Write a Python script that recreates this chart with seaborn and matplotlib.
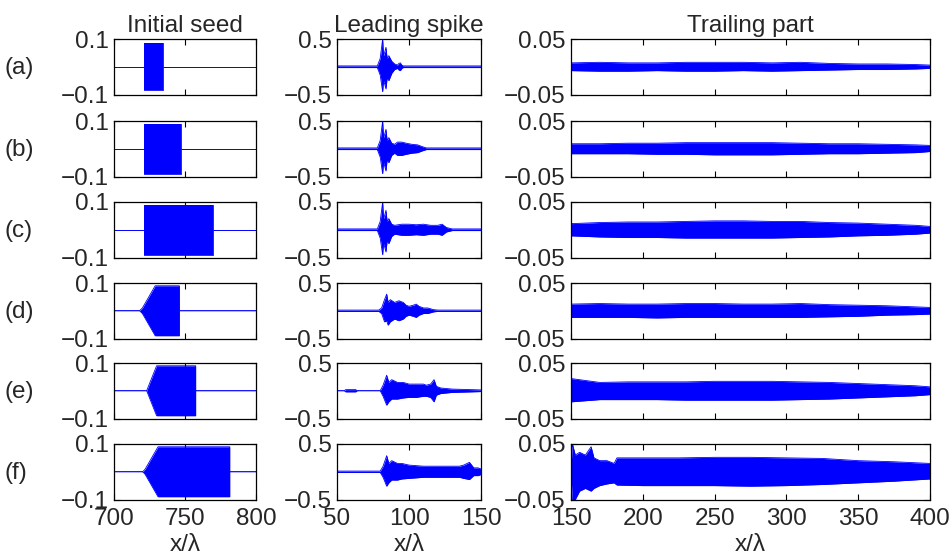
import numpy as np
import pandas as pd
import matplotlib
matplotlib.use("Agg")
import matplotlib.pyplot as plt
import seaborn as sns

# ---- data (signal envelopes) ----
row_labels = ["(a)", "(b)", "(c)", "(d)", "(e)", "(f)"]
col_titles = ["Initial seed", "Leading spike", "Trailing part"]

# initial seed: x positions and (symmetric) envelope amplitude
seed_x_a = [700, 721, 721, 734.5, 734.5, 800]
seed_amp_a = [0, 0, 0.085, 0.085, 0, 0]
seed_x_b = [700, 721, 721, 747, 747, 800]
seed_amp_b = [0, 0, 0.09, 0.09, 0, 0]
seed_x_c = [700, 721, 721, 770, 770, 800]
seed_amp_c = [0, 0, 0.09, 0.09, 0, 0]
seed_x_d = [700, 718, 719, 720, 729, 746, 746, 800]
seed_amp_d = [0, 0, 0.005, 0.01, 0.09, 0.09, 0, 0]
seed_x_e = [700, 723, 730, 757.5, 757.5, 800]
seed_amp_e = [0, 0, 0.09, 0.09, 0, 0]
seed_x_f = [700, 720, 721, 722, 731, 781.5, 781.5, 800]
seed_amp_f = [0, 0, 0.004, 0.01, 0.09, 0.09, 0, 0]

# leading spike: x, upper and lower envelope
spike_x_a = [50, 78, 80, 81.7, 82.3, 83, 84, 84.8, 86, 88, 90, 92, 93, 94, 95, 96, 150]
spike_up_a = [0.015, 0.015, 0.15, 0.5, 0.2, 0.25, 0.35, 0.15, 0.2, 0.1, 0.05, 0.03, 0.06, 0.07, 0.03, 0.015, 0.015]
spike_lo_a = [-0.015, -0.015, -0.15, -0.45, -0.25, -0.3, -0.4, -0.2, -0.25, -0.12, -0.05, -0.03, -0.06, -0.07, -0.03, -0.015, -0.015]

spike_x_b = [50, 78, 80, 81.7, 82.3, 83, 84, 84.8, 86, 88, 90, 92, 95, 98, 102, 106, 109, 112, 150]
spike_up_b = [0.015, 0.015, 0.15, 0.5, 0.2, 0.25, 0.35, 0.15, 0.2, 0.1, 0.08, 0.12, 0.12, 0.1, 0.08, 0.07, 0.04, 0.015, 0.015]
spike_lo_b = [-0.015, -0.015, -0.15, -0.45, -0.25, -0.3, -0.4, -0.2, -0.25, -0.12, -0.08, -0.12, -0.12, -0.1, -0.08, -0.07, -0.04, -0.015, -0.015]

spike_x_c = [50, 78, 80, 81.7, 82.3, 83, 84, 84.8, 86, 88, 90, 95, 100, 105, 110, 115, 120, 123, 126, 130, 150]
spike_up_c = [0.015, 0.015, 0.15, 0.5, 0.2, 0.25, 0.35, 0.15, 0.2, 0.1, 0.08, 0.1, 0.1, 0.09, 0.1, 0.08, 0.08, 0.1, 0.04, 0.015, 0.015]
spike_lo_c = [-0.015, -0.015, -0.15, -0.45, -0.25, -0.3, -0.4, -0.2, -0.25, -0.12, -0.08, -0.1, -0.1, -0.09, -0.1, -0.08, -0.08, -0.1, -0.04, -0.015, -0.015]

spike_x_d = [50, 79, 81, 83, 84.5, 85.5, 87, 90, 93, 96, 98, 100, 103, 105, 107, 110, 113, 117, 120, 150]
spike_up_d = [0.012, 0.012, 0.05, 0.2, 0.3, 0.15, 0.2, 0.15, 0.18, 0.15, 0.1, 0.08, 0.1, 0.12, 0.08, 0.05, 0.05, 0.02, 0.012, 0.012]
spike_lo_d = [-0.012, -0.012, -0.05, -0.2, -0.18, -0.26, -0.2, -0.15, -0.18, -0.15, -0.1, -0.08, -0.1, -0.12, -0.08, -0.05, -0.05, -0.02, -0.012, -0.012]

spike_x_e = [50, 55, 56, 63, 64, 80, 82, 84.5, 86, 88, 92, 96, 100, 105, 110, 112, 115, 117.4, 119, 122, 130, 150]
spike_up_e = [0, 0, 0.02, 0.02, 0, 0, 0.1, 0.28, 0.15, 0.2, 0.15, 0.15, 0.12, 0.12, 0.12, 0.1, 0.12, 0.2, 0.08, 0.05, 0.03, 0.015]
spike_lo_e = [0, 0, -0.02, -0.02, 0, 0, -0.1, -0.26, -0.2, -0.15, -0.15, -0.13, -0.12, -0.12, -0.1, -0.1, -0.12, -0.2, -0.08, -0.05, -0.03, -0.015]

spike_x_f = [50, 80, 82, 84.5, 86, 88, 92, 95, 100, 110, 120, 130, 135, 138, 142, 145, 148, 150]
spike_up_f = [0.012, 0.012, 0.1, 0.29, 0.15, 0.2, 0.15, 0.15, 0.12, 0.1, 0.1, 0.1, 0.1, 0.12, 0.17, 0.07, 0.07, 0.05]
spike_lo_f = [-0.012, -0.012, -0.1, -0.26, -0.2, -0.15, -0.15, -0.13, -0.12, -0.1, -0.1, -0.1, -0.1, -0.12, -0.14, -0.07, -0.07, -0.05]

# trailing part: x, upper and lower envelope
trail_x = [150, 170, 190, 210, 230, 250, 270, 290, 310, 330, 350, 370, 390, 400]
trail_up_a = [0.007, 0.008, 0.007, 0.007, 0.008, 0.008, 0.008, 0.007, 0.008, 0.006, 0.005, 0.005, 0.004, 0.003]
trail_lo_a = [-0.007, -0.008, -0.008, -0.007, -0.008, -0.008, -0.007, -0.008, -0.007, -0.006, -0.005, -0.005, -0.004, -0.003]
trail_up_b = [0.009, 0.009, 0.01, 0.01, 0.011, 0.011, 0.011, 0.011, 0.01, 0.009, 0.009, 0.008, 0.007, 0.006]
trail_lo_b = [-0.009, -0.009, -0.009, -0.01, -0.01, -0.011, -0.011, -0.011, -0.01, -0.009, -0.009, -0.008, -0.007, -0.005]
trail_up_c = [0.011, 0.013, 0.014, 0.014, 0.015, 0.016, 0.016, 0.015, 0.015, 0.013, 0.012, 0.01, 0.008, 0.006]
trail_lo_c = [-0.011, -0.013, -0.014, -0.014, -0.015, -0.015, -0.015, -0.015, -0.014, -0.013, -0.011, -0.01, -0.008, -0.006]
trail_up_d = [0.012, 0.013, 0.012, 0.012, 0.013, 0.013, 0.012, 0.012, 0.013, 0.011, 0.01, 0.009, 0.007, 0.006]
trail_lo_d = [-0.012, -0.012, -0.012, -0.013, -0.012, -0.012, -0.012, -0.012, -0.012, -0.011, -0.01, -0.008, -0.007, -0.006]
trail_up_e = [0.022, 0.015, 0.016, 0.016, 0.016, 0.017, 0.017, 0.017, 0.016, 0.015, 0.013, 0.011, 0.009, 0.007]
trail_lo_e = [-0.02, -0.016, -0.016, -0.016, -0.017, -0.017, -0.017, -0.017, -0.016, -0.015, -0.013, -0.011, -0.009, -0.007]
trail_x_f = [150, 151, 153, 156, 160, 164, 166, 170, 175, 180, 182, 200, 225, 250, 275, 300, 325, 350, 375, 400]
trail_up_f = [0.01, 0.05, 0.03, 0.035, 0.03, 0.045, 0.025, 0.02, 0.02, 0.015, 0.025, 0.025, 0.025, 0.026, 0.026, 0.025, 0.024, 0.02, 0.018, 0.015]
trail_lo_f = [-0.01, -0.05, -0.05, -0.035, -0.03, -0.035, -0.03, -0.025, -0.022, -0.02, -0.024, -0.025, -0.025, -0.025, -0.026, -0.025, -0.023, -0.02, -0.017, -0.013]

seed_x = [seed_x_a, seed_x_b, seed_x_c, seed_x_d, seed_x_e, seed_x_f]
seed_amp = [seed_amp_a, seed_amp_b, seed_amp_c, seed_amp_d, seed_amp_e, seed_amp_f]
spike_x = [spike_x_a, spike_x_b, spike_x_c, spike_x_d, spike_x_e, spike_x_f]
spike_up = [spike_up_a, spike_up_b, spike_up_c, spike_up_d, spike_up_e, spike_up_f]
spike_lo = [spike_lo_a, spike_lo_b, spike_lo_c, spike_lo_d, spike_lo_e, spike_lo_f]
trail_xs = [trail_x, trail_x, trail_x, trail_x, trail_x, trail_x_f]
trail_up = [trail_up_a, trail_up_b, trail_up_c, trail_up_d, trail_up_e, trail_up_f]
trail_lo = [trail_lo_a, trail_lo_b, trail_lo_c, trail_lo_d, trail_lo_e, trail_lo_f]

# ---- style ----
sns.set_style("ticks")
plt.rcParams["font.family"] = ["Liberation Sans", "DejaVu Sans"]
BLUE = "#0000ff"
FS = 17.5

W, H = 950, 558
fig = plt.figure(figsize=(W / 100, H / 100), dpi=100)

col_left = [114, 337, 571]
col_width = [142, 144, 359]
row_top = [39, 121, 202, 283, 363, 444]
row_h = 55.5

xlims = [(700, 800), (50, 150), (150, 400)]
xticks = [[700, 750, 800], [50, 100, 150], [150, 200, 250, 300, 350, 400]]
ylims = [0.1, 0.5, 0.05]


def draw_band(ax, x, up, lo):
    df = pd.DataFrame({"x": x, "up": up, "lo": lo})
    ax.fill_between(df["x"], df["lo"], df["up"], color=BLUE, lw=0)
    sns.lineplot(data=df, x="x", y="up", ax=ax, color=BLUE, lw=0.6,
                 estimator=None, sort=False)
    sns.lineplot(data=df, x="x", y="lo", ax=ax, color=BLUE, lw=0.6,
                 estimator=None, sort=False)


for r in range(6):
    for c in range(3):
        ax = fig.add_axes([col_left[c] / W, 1 - (row_top[r] + row_h) / H,
                           col_width[c] / W, row_h / H])
        if c == 0:
            amp = np.array(seed_amp[r])
            draw_band(ax, seed_x[r], amp, -amp)
        elif c == 1:
            draw_band(ax, spike_x[r], spike_up[r], spike_lo[r])
        else:
            draw_band(ax, trail_xs[r], trail_up[r], trail_lo[r])

        lim = ylims[c]
        ax.set_xlim(*xlims[c])
        ax.set_ylim(-lim, lim)
        ax.set_xticks(xticks[c])
        ax.set_yticks([-lim, lim])
        ax.set_xlabel("")
        ax.set_ylabel("")
        ax.tick_params(axis="both", direction="in", length=4, width=0.8,
                       top=True, right=True, labelsize=FS, color="black")
        ax.tick_params(axis="x", pad=6)
        ax.tick_params(axis="y", pad=4)
        for s in ax.spines.values():
            s.set_linewidth(0.9)
            s.set_color("black")
        if r < 5:
            ax.tick_params(axis="x", labelbottom=False)
        else:
            ax.set_xlabel("x/\u03bb", fontsize=FS, labelpad=3)
        if r == 0:
            ax.set_title(col_titles[c], fontsize=FS, pad=5)

    fig.text(5 / W, 1 - (row_top[r] + row_h / 2 + 1) / H, row_labels[r],
             fontsize=FS, va="center", ha="left")

fig.savefig("out.png", dpi=100)
